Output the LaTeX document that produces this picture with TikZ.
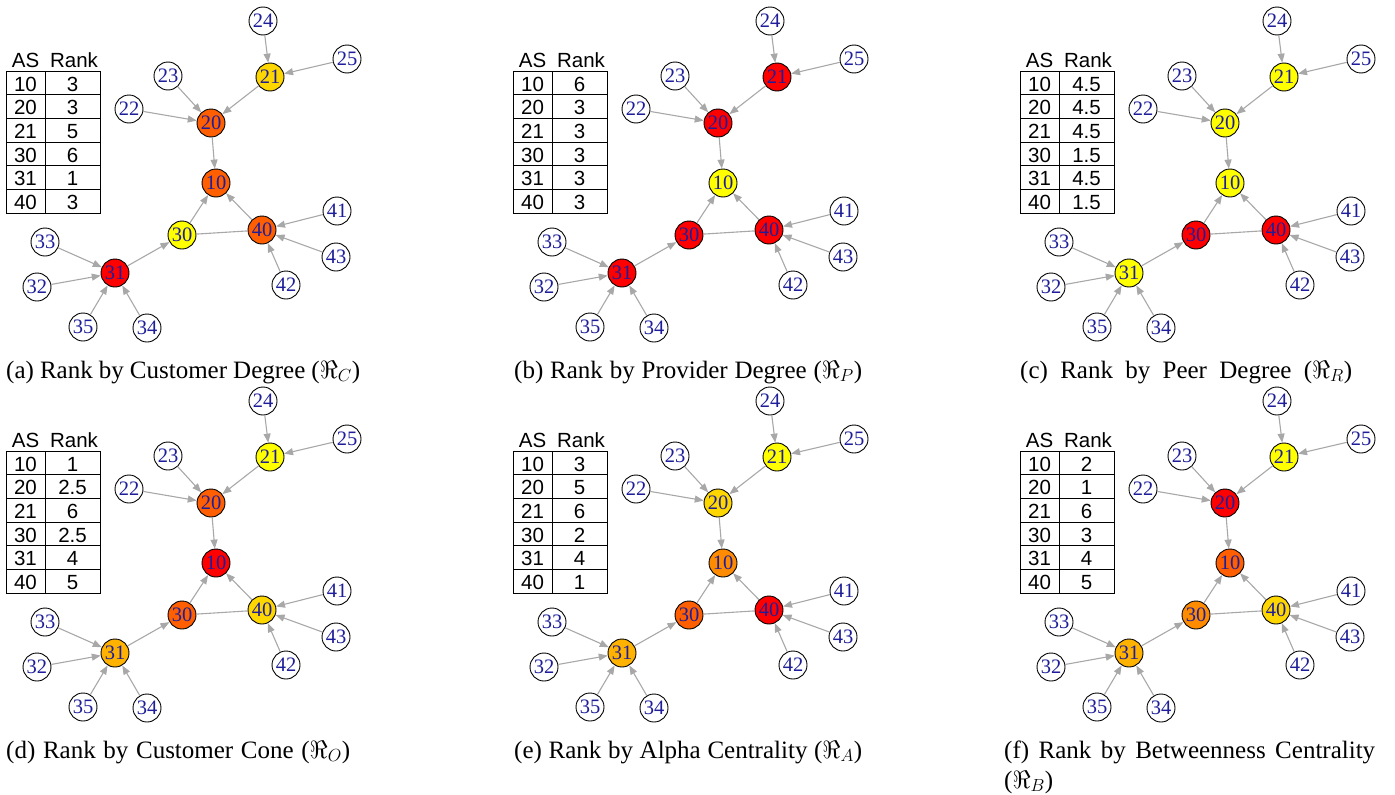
\RequirePackage{fix-cm}
\documentclass[tikz,border=0pt]{standalone}
\usepackage{fontspec}
\setmainfont{Liberation Serif}
\newfontfamily\tabfont{Liberation Sans}
\usetikzlibrary{arrows.meta}

\definecolor{cA}{HTML}{FF0000}
\definecolor{cB}{HTML}{FF5F00}
\definecolor{cC}{HTML}{FF8C00}
\definecolor{cD}{HTML}{FFB300}
\definecolor{cE}{HTML}{FFD700}
\definecolor{cF}{HTML}{FFFF00}
\definecolor{labelblue}{HTML}{1E1E9A}
\definecolor{edgegray}{HTML}{A8A8A8}

\tikzset{
  asnode/.style={circle, draw=black, line width=0.9pt, minimum size=28pt, inner sep=0pt,
    font=\fontsize{20.5}{20.5}\selectfont, text=labelblue, fill=white},
  link/.style={draw=edgegray, line width=1.1pt, -{Triangle[length=9pt,width=7pt]}},
  peerlink/.style={draw=edgegray, line width=1.1pt},
  tabline/.style={draw=black, line width=1pt},
  tabtxt/.style={anchor=base, inner sep=0pt, font=\tabfont\fontsize{20.5}{20.5}\selectfont},
  captxt/.style={anchor=base west, inner sep=0pt, font=\fontsize{25}{30}\selectfont},
  f10/.style={}, f20/.style={}, f21/.style={}, f30/.style={}, f31/.style={}, f40/.style={}
}

% the AS graph: providers point from customer to provider
\newcommand\asgraph{%
  \node[asnode] (24) at (263,21) {24};
  \node[asnode] (25) at (347,59) {25};
  \node[asnode,f21] (21) at (270,77) {21};
  \node[asnode] (23) at (168,76) {23};
  \node[asnode] (22) at (129,109) {22};
  \node[asnode,f20] (20) at (211,123) {20};
  \node[asnode,f10] (10) at (216,183) {10};
  \node[asnode,f30] (30) at (182,235) {30};
  \node[asnode,f40] (40) at (262,230) {40};
  \node[asnode] (41) at (337,211) {41};
  \node[asnode] (43) at (336,257) {43};
  \node[asnode] (42) at (286,285) {42};
  \node[asnode] (33) at (45,242) {33};
  \node[asnode,f31] (31) at (115,273) {31};
  \node[asnode] (32) at (37,287) {32};
  \node[asnode] (35) at (83,327) {35};
  \node[asnode] (34) at (147,328) {34};
  \draw[link] (24) -- (21);
  \draw[link] (25) -- (21);
  \draw[link] (21) -- (20);
  \draw[link] (23) -- (20);
  \draw[link] (22) -- (20);
  \draw[link] (20) -- (10);
  \draw[link] (30) -- (10);
  \draw[link] (40) -- (10);
  \draw[peerlink] (30) -- (40);
  \draw[link] (31) -- (30);
  \draw[link] (33) -- (31);
  \draw[link] (32) -- (31);
  \draw[link] (35) -- (31);
  \draw[link] (34) -- (31);
  \draw[link] (41) -- (40);
  \draw[link] (43) -- (40);
  \draw[link] (42) -- (40);
}

% rank table with the six ranks of AS 10, 20, 21, 30, 31, 40
\newcommand\ranktable[6]{%
  \node[tabtxt] (hAS) at (25.5,67) {AS};
  \node[tabtxt] (hRank) at (74,67) {Rank};
  \draw[tabline] (6,71) rectangle (100,213);
  \draw[tabline] (45,71) -- (45,213);
  \foreach \k in {1,...,5} {\draw[tabline] (6,71+23.667*\k) -- (100,71+23.667*\k);}
  \foreach \as/\rk [count=\i from 0] in {10/#1,20/#2,21/#3,30/#4,31/#5,40/#6} {
    \node[tabtxt] at (25.5,91+23.667*\i) {\as};
    \node[tabtxt] at (72.5,91+23.667*\i) {\rk};
  }
}

\begin{document}
\begin{tikzpicture}[x=1pt,y=-1pt]
\useasboundingbox (0,0) rectangle (1395,795);

\begin{scope}[name prefix=a-, f10/.style={fill=cB}, f20/.style={fill=cB}, f21/.style={fill=cE},
  f30/.style={fill=cF}, f31/.style={fill=cA}, f40/.style={fill=cB}]
  \asgraph
  \ranktable{3}{3}{5}{6}{1}{3}
\end{scope}

\begin{scope}[shift={(507,0)}, name prefix=b-, f10/.style={fill=cF}, f20/.style={fill=cA}, f21/.style={fill=cA},
  f30/.style={fill=cA}, f31/.style={fill=cA}, f40/.style={fill=cA}]
  \asgraph
  \ranktable{6}{3}{3}{3}{3}{3}
\end{scope}

\begin{scope}[shift={(1014,0)}, name prefix=c-, f10/.style={fill=cF}, f20/.style={fill=cF}, f21/.style={fill=cF},
  f30/.style={fill=cA}, f31/.style={fill=cF}, f40/.style={fill=cA}]
  \asgraph
  \ranktable{4.5}{4.5}{4.5}{1.5}{4.5}{1.5}
\end{scope}

\begin{scope}[shift={(0,380)}, name prefix=d-, f10/.style={fill=cA}, f20/.style={fill=cB}, f21/.style={fill=cF},
  f30/.style={fill=cB}, f31/.style={fill=cD}, f40/.style={fill=cE}]
  \asgraph
  \ranktable{1}{2.5}{6}{2.5}{4}{5}
\end{scope}

\begin{scope}[shift={(507,380)}, name prefix=e-, f10/.style={fill=cC}, f20/.style={fill=cE}, f21/.style={fill=cF},
  f30/.style={fill=cB}, f31/.style={fill=cD}, f40/.style={fill=cA}]
  \asgraph
  \ranktable{3}{5}{6}{2}{4}{1}
\end{scope}

\begin{scope}[shift={(1014,380)}, name prefix=f-, f10/.style={fill=cB}, f20/.style={fill=cA}, f21/.style={fill=cF},
  f30/.style={fill=cC}, f31/.style={fill=cD}, f40/.style={fill=cE}]
  \asgraph
  \ranktable{2}{1}{6}{3}{4}{5}
\end{scope}

% sub-captions
\node[captxt] (capa) at (6,378) {\makebox[354pt][s]{(a) Rank by Customer Degree ($\Re_C$)}};
\node[captxt] (capb) at (514,378) {\makebox[348pt][s]{(b) Rank by Provider Degree ($\Re_P$)}};
\node[captxt] (capc) at (1020,378) {\makebox[332pt][s]{(c) Rank by Peer Degree ($\Re_R$)}};
\node[captxt] (capd) at (6,758) {\makebox[344pt][s]{(d) Rank by Customer Cone ($\Re_O$)}};
\node[captxt] (cape) at (514,758) {\makebox[348pt][s]{(e) Rank by Alpha Centrality ($\Re_A$)}};
\node[captxt] (capf) at (1004,758) {\makebox[371pt][s]{(f) Rank by Betweenness Centrality}};
\node[captxt] (capf2) at (1004,788) {($\Re_B$)};
\end{tikzpicture}
\end{document}
